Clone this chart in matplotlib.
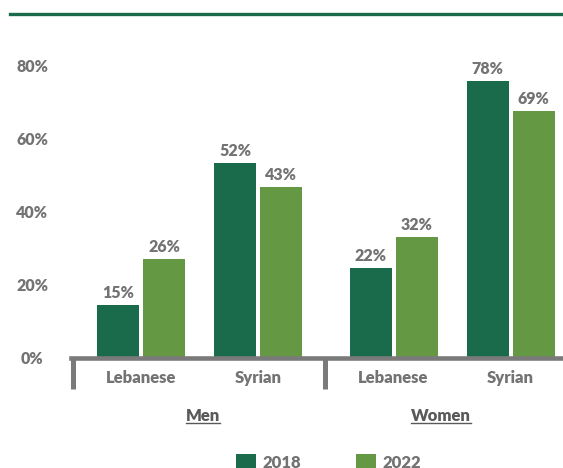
import matplotlib
matplotlib.use('Agg')
import matplotlib.pyplot as plt
import matplotlib.transforms as mtransforms
from matplotlib.lines import Line2D
import numpy as np

plt.rcParams['font.family'] = ['Lato', 'DejaVu Sans']
plt.rcParams['font.weight'] = 'bold'

groups = ['Men', 'Women']
nationalities = ['Lebanese', 'Syrian', 'Lebanese', 'Syrian']
years = ['2018', '2022']
# bar heights as drawn in the reference
values_2018 = [14.4, 53.2, 24.5, 75.6]
values_2022 = [26.9, 46.6, 33.0, 67.4]
# printed data labels
labels_2018 = ['15%', '52%', '22%', '78%']
labels_2022 = ['26%', '43%', '32%', '69%']
yticks = [0, 20, 40, 60, 80]

dark = '#1A6B4C'
light = '#659843'
grey = '#737373'
axis_grey = '#7A7A7A'

fig = plt.figure(figsize=(5.63, 4.68), dpi=100)
ax_bottom = (468 - 357.5) / 468
ax_h = (468 - 65) / 468 - ax_bottom
ax = fig.add_axes([70.5 / 563, ax_bottom, 492.5 / 563, ax_h * 85 / 80])

group_gap = 135.5 / 117 - 1
x = np.array([0, 1, 2 + group_gap, 3 + group_gap])
w = 42 / 117
off = 23 / 117

b1 = ax.bar(x - off, values_2018, w, color=dark, label=years[0])
b2 = ax.bar(x + off, values_2022, w, color=light, label=years[1])
for bars, labs in [(b1, labels_2018), (b2, labels_2022)]:
    for r, t in zip(bars, labs):
        ax.annotate(t, (r.get_x() + r.get_width() / 2, r.get_height()),
                    xytext=(0, 3), textcoords='offset points',
                    ha='center', va='bottom', color=grey, fontsize=11.5, fontweight='heavy')

ax.set_xlim(-0.603, (563 - 141) / 117)
ax.set_ylim(0, 85)
ax.set_yticks(yticks)
ax.set_yticklabels([f'{v}%' for v in yticks], ha='center', fontweight='heavy')
ax.tick_params(axis='y', length=0, pad=27.7, labelcolor=grey, labelsize=11.5)
ax.tick_params(axis='x', length=0, bottom=False, labelbottom=False)
for s in ['top', 'right', 'left']:
    ax.spines[s].set_visible(False)
ax.spines['bottom'].set_color(axis_grey)
ax.spines['bottom'].set_linewidth(3.3)

trans = mtransforms.blended_transform_factory(ax.transData, ax.transAxes)
px = 1 / (ax.get_position().height * 468)
sep = (324.5 - 141) / 117
ax.vlines([-0.603 + 2.5 / 117, sep], -31 * px, 0, color=axis_grey, lw=3.6,
          transform=trans, clip_on=False)

for xi, name in zip(x, nationalities):
    ax.text(xi, -20.5 * px, name, transform=trans, ha='center', va='center',
            color=grey, fontsize=12, fontweight='heavy')
group_x = [(202.7 - 141) / 117, (440.7 - 141) / 117]
for gx, g in zip(group_x, groups):
    t = ax.text(gx, -58.5 * px, g, transform=trans, ha='center', va='center',
                color='#595959', fontsize=12, fontweight='heavy')
    # underline
    fig.canvas.draw()
    bb = t.get_window_extent()
    fig.add_artist(Line2D([bb.x0 / 563, bb.x1 / 563],
                          [(bb.y0 + 1) / 468, (bb.y0 + 1) / 468],
                          color='#595959', lw=1))

fig.add_artist(Line2D([10 / 563, 1], [(468 - 14) / 468] * 2, color=dark, lw=2.4))

fig.legend(loc='upper left', bbox_to_anchor=(236 / 563, (468 - 454) / 468),
           ncol=2, frameon=False, fontsize=12, borderpad=0, borderaxespad=0,
           handlelength=1.2, handleheight=1.2, handletextpad=0.4,
           columnspacing=3.3, labelcolor=grey, prop={'weight': 'heavy', 'size': 12})

fig.savefig('out.png', dpi=100)
